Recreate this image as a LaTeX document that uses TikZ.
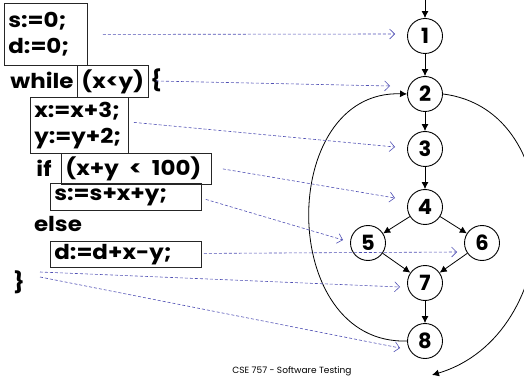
\documentclass[tikz,border=0pt]{standalone}
\usepackage{fontspec}
\setmainfont{Poppins}
\newfontfamily\codefam{Poppins}[FakeStretch=1.12]
\usetikzlibrary{arrows.meta,calc}
\definecolor{dashblue}{RGB}{80,80,180}
\newcommand{\codefnt}{\codefam\fontsize{20.5}{26}\selectfont\bfseries}
\begin{document}
\begin{tikzpicture}[x=1pt,y=-1pt,
  codebox/.style={draw=black!85,line width=0.8pt,inner xsep=4pt,inner ysep=0pt,
    anchor=north west,align=left,font=\codefnt},
  codetext/.style={inner sep=0pt,font=\codefnt},
  cfgnode/.style={circle,draw,line width=0.9pt,minimum size=35pt,inner sep=0pt,
    font=\fontsize{21}{22}\selectfont\bfseries},
  flow/.style={draw,line width=0.8pt,-{Latex[length=7pt,width=7pt]}},
  dashlink/.style={draw=dashblue,line width=0.6pt,dash pattern=on 3pt off 2pt,
    -{Straight Barb[length=5pt,width=10pt]}}]
\useasboundingbox (0,0) rectangle (524,379);
% code boxes
\node[codebox,text width=75pt,minimum height=62pt] (b1) at (4,3) {s:=0;\\d:=0;};
\node[codebox,text width=63pt,minimum height=32pt] (b2) at (77,65) {(x<y)};
\node[codebox,text width=90pt,minimum height=56pt] (b3) at (30,97) {x:=x+3;\\y:=y+2;};
\node[codebox,text width=142pt,minimum height=31pt] (b4) at (61,153) {(x+y \,<\, 100)};
\node[codebox,text width=143pt,minimum height=27pt] (b5) at (50,183) {s:=s+x+y;};
\node[codebox,text width=143pt,minimum height=26pt] (b6) at (50,241) {d:=d+x-y;};
% free code text
\node[codetext] (wh) at (42,80) {while};
\node[codetext] (ob) at (156,80) {\{};
\node[codetext] (ifk) at (44,168) {if};
\node[codetext] (el) at (58,224) {else};
\node[codetext] (cb) at (19,282) {\}};
% graph nodes
\node[cfgnode] (n1) at (425,36) {1};
\node[cfgnode] (n2) at (425,94) {2};
\node[cfgnode] (n3) at (425,149) {3};
\node[cfgnode] (n4) at (425,207) {4};
\node[cfgnode] (n5) at (368,243) {5};
\node[cfgnode] (n6) at (482,243) {6};
\node[cfgnode] (n7) at (425,283) {7};
\node[cfgnode] (n8) at (425,341) {8};
\coordinate (top) at (425,0);
\coordinate (exitp) at (432,375);
% flow edges
\draw[flow] (top) -- (n1);
\draw[flow] (n1) -- (n2);
\draw[flow] (n2) -- (n3);
\draw[flow] (n3) -- (n4);
\draw[flow] (n4) -- (n5);
\draw[flow] (n4) -- (n6);
\draw[flow] (n5) -- (n7);
\draw[flow] (n6) -- (n7);
\draw[flow] (n7) -- (n8);
\draw[flow] (n8.west) .. controls (277,345) and (277,90) .. (n2.west);
\draw[flow] (n2.east) .. controls (572,110) and (566,335) .. (exitp);
% dashed mapping links
\draw[dashlink] ($(b1.east)+(15,0)$) -- ($(n1)+(-30,-2)$);
\draw[dashlink] ($(ob.center)+(0,1)$) -- ($(n2)+(-35,-8)$);
\draw[dashlink] ($(b3.east)+(5,-3)$) -- ($(n3)+(-30,-2)$);
\draw[dashlink] ($(b4.east)+(11,0)$) -- ($(n4)+(-30,-9)$);
\draw[dashlink] ($(b5.east)+(4,2.5)$) -- ($(n5)+(-25,-3)$);
\draw[dashlink] ($(b6.east)+(2,-1)$) -- ($(n6)+(-25,9)$);
\draw[dashlink] ($(cb)+(21,-10)$) -- ($(n7)+(-25,4)$);
\draw[dashlink] ($(cb)+(21,-5)$) -- ($(n8)+(-25,7)$);
% footer
\node[inner sep=0pt,font=\fontsize{9}{10}\selectfont] (ft) at (292,371) {CSE 757 - Software Testing};
\end{tikzpicture}
\end{document}
